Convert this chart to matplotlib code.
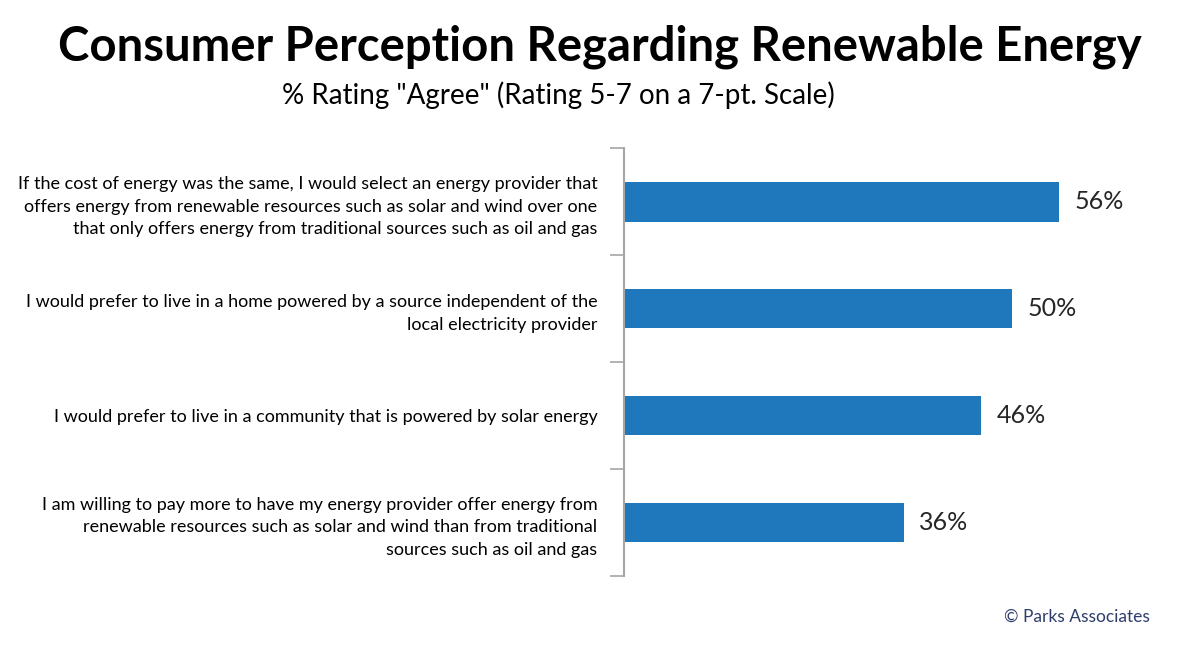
import matplotlib.pyplot as plt

plt.rcParams['font.family'] = ['Lato', 'DejaVu Sans']

labels = [
    "If the cost of energy was the same, I would select an energy provider that\noffers energy from renewable resources such as solar and wind over one\nthat only offers energy from traditional sources such as oil and gas",
    "I would prefer to live in a home powered by a source independent of the\nlocal electricity provider",
    "I would prefer to live in a community that is powered by solar energy",
    "I am willing to pay more to have my energy provider offer energy from\nrenewable resources such as solar and wind than from traditional\nsources such as oil and gas",
]
values = [56, 50, 46, 36]

fig = plt.figure(figsize=(12, 6.45), dpi=100)
ax = fig.add_axes([0.52, 0.107, 0.466, 0.663])

pos = list(range(len(values)))
ax.barh(pos, values, height=0.37, color='#1F77BC')
ax.set_ylim(len(values) - 0.5, -0.5)
ax.set_xlim(0, 72)

for p, v in zip(pos, values):
    ax.text(v + 2, p, f"{v}%", va='center', ha='left', fontsize=18, color='#262626')

ax.set_yticks(pos)
ax.set_yticklabels(labels, fontsize=13, linespacing=1.5)
ax.tick_params(axis='y', which='major', length=0, pad=19)
ax.set_yticks([i - 0.5 for i in range(len(values) + 1)], minor=True)
ax.tick_params(axis='y', which='minor', length=10, width=1.2, color='#A6A6A6')
ax.set_xticks([])
for s in ['top', 'right', 'bottom']:
    ax.spines[s].set_visible(False)
ax.spines['left'].set_color('#A6A6A6')
ax.spines['left'].set_linewidth(1.5)

fig.text(0.5, 0.928, "Consumer Perception Regarding Renewable Energy", ha='center', va='center',
         fontsize=34, fontweight='bold', color='black')
fig.text(0.465, 0.853, '% Rating "Agree" (Rating 5-7 on a 7-pt. Scale)', ha='center', va='center',
         fontsize=20, color='black')
fig.text(0.958, 0.043, "© Parks Associates", ha='right', va='center', fontsize=12.5, color='#2E3D6B')

fig.savefig('out.png', dpi=100)
